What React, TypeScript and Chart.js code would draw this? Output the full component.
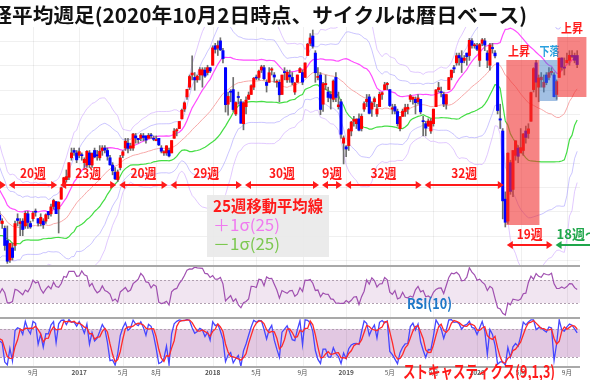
import React, { useEffect, useRef } from "react";
import { Chart, registerables } from "chart.js";
Chart.register(...registerables);

// Nikkei 225 weekly candles. First entry = week ending 2015-12-11.
// The first 25 weeks are indicator warm-up (off the left edge); chart week 0 = 2016-06-03, last = 2020-10-02.
const WARMUP = 25;

const opens = [
  19700,19100,18800,18900,18818,17400,17300,17100,17600,16900,15300,15800,16300,17000,17000,16900,17000,16000,15700,16600,17400,16300,16200,16600,16700,
  16850,16500,16300,15800,15000,15500,15600,16700,16500,16600,
  16400,16900,16500,16700,17000,16700,16500,16600,16600,17000,
  16900,17200,17400,17100,17500,18100,18300,18400,19200,19500,
  19400,19300,19300,19000,18900,19400,18900,19500,19300,19200,
  19500,19600,19500,19200,18900,18600,18300,18800,19300,19600,
  19800,19600,19600,20100,20000,20000,20100,20100,20000,20100,
  20000,19900,20000,19600,19400,19400,19500,19400,20000,20300,
  20400,20800,21200,21700,22100,22600,22500,22400,22600,22600,
  22800,22700,22900,23000,23800,23700,24000,23600,22900,21400,
  21900,22000,21000,21700,21500,20600,21300,21600,21800,22100,
  22500,22500,22800,22900,22300,22300,22800,22600,22300,22300,
  21800,22700,22400,22600,22500,21900,22300,22700,22700,22500,
  23400,23900,24200,23500,22500,22600,21400,22200,21900,21800,
  21600,22500,21300,21500,19800,19650,19700,20300,20700,20600,
  20800,20400,21200,21500,21700,21200,21500,21000,21300,21800,
  22000,22200,22000,21200,21300,21100,20400,20900,21100,21200,
  21600,21600,21600,21500,21600,20700,20600,20500,20300,20600,
  21300,22000,21900,21800,21400,22000,22500,22900,23100,23400,
  23300,23200,23500,23400,24000,23800,23800,23200,23900,24000,
  23500,23000,23700,23500,23100,20800,20300,17500,16600,19000,
  17900,19300,19600,19400,19500,20300,20200,20700,22000,23100,
  22100,22400,22100,22600,22500,22700,22600,21800,22500,23300,
  22900,23100,23200,23400,23400,23400,
];
const highs = [
  19700,19870,19000,19100,18951,17800,17500,17600,17900,16900,16200,16300,17100,17100,17300,17100,17100,16200,16900,17600,17600,16400,16700,16800,16900,
  17000,16700,16400,16400,15700,15700,16600,16900,16700,16700,
  17000,17000,16600,17000,17100,16700,16900,16700,16900,17000,
  17300,17500,17400,17400,18000,18400,18700,19000,19600,19600,
  19500,19600,19400,19200,19500,19500,19400,19600,19500,19700,
  19700,19700,19600,19300,19000,18800,18700,19300,19500,20000,
  20000,19800,20200,20200,20000,20200,20200,20100,20200,20200,
  20100,20100,20000,19700,19500,19700,19600,19900,20400,20400,
  20700,21200,21500,22000,22600,23382,22700,22600,22900,22900,
  22900,23000,22900,23800,23900,24000,24129,23700,22900,21900,
  22000,22500,21500,21900,21600,21500,21700,21900,22200,22500,
  22600,22800,23000,23000,22400,22900,22900,22700,22400,22400,
  22600,22900,22800,22800,22700,22300,22600,22900,22800,23100,
  23900,24300,24448,23600,22900,22700,22300,22600,22100,21900,
  22400,22700,21900,21600,20100,19700,20400,20700,20900,20800,
  21000,21000,21500,21800,21800,21500,21700,21400,21900,21900,
  22300,22300,22000,21400,21400,21200,20900,21200,21400,21400,
  21800,21700,21700,21800,21600,20900,20700,20800,20800,21200,
  22000,22300,22100,21900,21800,22500,22800,23000,23500,23500,
  23600,23400,23500,24100,24100,23900,23900,23900,24100,24100,
  23600,23900,23900,23600,23100,21400,20400,17800,19400,19100,
  19500,19900,19700,20400,20200,20500,20600,21900,22900,23200,
  22600,22700,22600,22700,22900,22900,22700,22400,23300,23300,
  23300,23500,23600,23600,23500,23600,
];
const lows = [
  19200,18980,18600,18850,17509,16900,16017,16800,16700,14865,15300,15700,16000,16500,16600,16700,16100,15500,15600,16500,16600,15975,16100,16400,16500,
  16500,16300,15400,14864,14900,15000,15400,16400,16000,16000,
  16300,16300,16300,16600,16800,16400,16400,16300,16500,16700,
  16800,17100,16900,16111,17500,18000,18200,18300,19100,19300,
  19000,19200,19100,18800,18800,18800,18800,19200,19100,19100,
  19300,19400,19100,18900,18500,18300,18224,18700,19200,19500,
  19400,19500,19500,19800,19800,19900,19900,19800,20000,20000,
  19900,19900,19700,19400,19300,19300,19239,19400,20000,20100,
  20400,20800,21100,21600,22000,22400,21972,22300,22400,22100,
  22500,22600,22700,23000,23500,23400,23600,23100,21078,20950,
  21500,21100,20937,21400,20617,20347,21000,21600,21800,22000,
  22400,22400,22700,22400,21900,22300,22600,22300,22100,21500,
  21800,22400,22300,22300,22200,21800,22300,22700,22200,22500,
  23400,23800,23700,22300,22400,20971,21100,22000,21500,21200,
  21500,21500,21200,20000,18948,19241,19500,20100,20500,20400,
  20300,20300,21100,21300,21000,20900,21300,20900,21300,21600,
  22000,22000,21300,21000,21000,20500,20300,20900,20900,21000,
  21500,21400,21000,21400,21000,20100,20100,20500,20200,20500,
  21300,21900,21700,21300,21200,22000,22400,22700,23000,23000,
  22700,23100,23000,23200,23700,23700,23600,22951,23800,23600,
  22900,22800,23500,23300,21000,20400,16690,16358,16500,17700,
  17600,19100,19000,19400,19300,19800,20000,20700,21900,21700,
  21500,22100,21900,22200,22400,22600,21700,21600,22500,22800,
  22600,23100,23000,23300,23100,22900,
];
const closes = [
  19230,18986,18769,19034,17698,17147,16958,17518,16820,14953,15967,16188,17015,16938,16725,17002,16164,15821,16848,17572,16666,16106,16412,16736,16835,
  16642,16601,15599,14952,15682,15106,16497,16627,16569,16254,
  16919,16545,16360,16925,16965,16519,16754,16449,16860,16856,
  17184,17446,16905,17374,17968,18381,18426,18996,19401,19427,
  19114,19454,19287,19137,19467,18918,19378,19234,19283,19469,
  19604,19521,19262,18909,18664,18335,18620,19197,19445,19883,
  19590,19686,20177,20013,19943,20132,20033,19929,20118,20099,
  19959,19952,19729,19470,19452,19691,19274,19909,20296,20356,
  20690,21155,21457,22008,22539,22681,22397,22550,22819,22811,
  22553,22902,22765,23715,23653,23808,23632,23274,21383,21720,
  21892,21182,21469,21676,20617,21454,21568,21778,22162,22467,
  22472,22758,22930,22450,22171,22694,22851,22516,22304,21788,
  22597,22697,22712,22525,22298,22270,22601,22865,22307,23094,
  23869,24120,23783,22694,22532,21184,22243,22250,21680,21646,
  22351,21679,21374,20166,20015,19561,20359,20666,20773,20788,
  20333,20900,21425,21602,21025,21450,21627,21205,21807,21870,
  22200,22258,21344,21250,21117,20601,20884,21116,21258,21275,
  21746,21685,21466,21658,21087,20684,20418,20710,20704,21199,
  21988,22079,21878,21410,21798,22492,22800,22851,23391,23303,
  23112,23293,23354,24023,23816,23837,23656,23850,24041,23827,
  23205,23827,23687,23386,21142,20749,17431,16552,19389,17820,
  19498,19897,19262,19619,20179,20037,20388,21877,22863,22305,
  22478,22512,22306,22290,22696,22751,21710,22329,23289,22920,
  22882,23205,23406,23360,23204,23029,
];

// x-axis tick positions (chart week numbers) and labels
const tickWeeks = [13, 31, 48, 61, 83, 100, 118, 135, 152, 169, 186, 203, 221];
const tickLabels = ["9月", "2017", "5月", "8月", "2018", "5月", "9月", "2019", "5月", "9月", "2020", "5月", "9月"];
const priceGrid = [15000, 16000, 17000, 18000, 19000, 20000, 21000, 22000, 23000, 24000];

// cycle lows (chart week numbers) and cycle lengths
const cycleLows = [3, 23, 46, 66, 95, 125, 134, 165, 197];
const cycleLabels = ["20週", "23週", "20週", "29週", "30週", "9週", "32週", "32週"];
const lastCycle = [197, 216];
const lastCycleLabel = "19週";
const nextCycleLabel = "18週〜";

// highlighted zones since the March 2020 low
const zoneLabels = ["上昇", "下落", "上昇"];
const zoneFrom = [197.4, 210.3, 217.3];
const zoneTo = [210.3, 217.3, 228.6];
const zoneLow = [16440, 21532, 21697];
const zoneHigh = [23216, 23216, 24160];

const TITLE = "日経平均週足(2020年10月2日時点、サイクルは暦日ベース)";
const FONT = "'Noto Sans CJK JP', 'Noto Sans', sans-serif";

// view window
const X_MIN = 0.144;
const X_MAX = 226.1;

// ---- indicators derived from the candle arrays ----
const N = closes.length;
const wk = (i: number) => i - WARMUP;
const ma25: (number | null)[] = [];
const sd25: (number | null)[] = [];
for (let i = 0; i < N; i++) {
  if (i < 24) { ma25.push(null); sd25.push(null); continue; }
  let s = 0;
  for (let j = i - 24; j <= i; j++) s += closes[j];
  const m = s / 25;
  let v = 0;
  for (let j = i - 24; j <= i; j++) v += (closes[j] - m) * (closes[j] - m);
  ma25.push(m);
  sd25.push(Math.sqrt(v / 25));
}
// RSI(10)
const rsi10: (number | null)[] = [];
for (let i = 0; i < N; i++) {
  if (i < 10) { rsi10.push(null); continue; }
  let g = 0, l = 0;
  for (let j = i - 9; j <= i; j++) {
    const d = closes[j] - closes[j - 1];
    if (d > 0) g += d; else l -= d;
  }
  rsi10.push(g + l === 0 ? 50 : (100 * g) / (g + l));
}
// Stochastics(9,1,3)
const stK: (number | null)[] = [];
for (let i = 0; i < N; i++) {
  if (i < 8) { stK.push(null); continue; }
  let hh = -Infinity, ll = Infinity;
  for (let j = i - 8; j <= i; j++) { hh = Math.max(hh, highs[j]); ll = Math.min(ll, lows[j]); }
  stK.push(hh === ll ? 50 : ((closes[i] - ll) / (hh - ll)) * 100);
}
const stD: (number | null)[] = stK.map((_, i) =>
  i < 10 ? null : ((stK[i] as number) + (stK[i - 1] as number) + (stK[i - 2] as number)) / 3
);

const series = (arr: (number | null)[]) => arr.map((v, i) => ({ x: wk(i), y: v }));
const band = (k: number) => ma25.map((m, i) => ({ x: wk(i), y: m === null ? null : m + k * (sd25[i] as number) }));

function fitText(ctx: CanvasRenderingContext2D, text: string, x: number, cy: number, width: number, font: string, color: string, center = false) {
  ctx.save();
  ctx.font = font;
  ctx.fillStyle = color;
  ctx.textBaseline = "middle";
  ctx.textAlign = "left";
  const w = ctx.measureText(text).width || 1;
  const sx = width / w;
  ctx.translate(center ? x - width / 2 : x, cy);
  ctx.scale(sx, 1);
  ctx.fillText(text, 0, 0);
  ctx.restore();
}

function arrowHead(ctx: CanvasRenderingContext2D, tip: number, y: number, dir: number) {
  ctx.beginPath();
  ctx.moveTo(tip, y);
  ctx.lineTo(tip - dir * 6, y - 4);
  ctx.lineTo(tip - dir * 6, y + 4);
  ctx.closePath();
  ctx.fill();
}

function arrow(ctx: CanvasRenderingContext2D, x1: number, x2: number, y: number, color: string, lh = true, rh = true) {
  ctx.save();
  ctx.strokeStyle = color;
  ctx.fillStyle = color;
  ctx.lineWidth = 2;
  ctx.beginPath();
  ctx.moveTo(x1 + (lh ? 4 : 0), y);
  ctx.lineTo(x2 - (rh ? 4 : 0), y);
  ctx.stroke();
  if (lh) arrowHead(ctx, x1, y, -1);
  if (rh) arrowHead(ctx, x2, y, 1);
  ctx.restore();
}

function vGrid(chart: any) {
  const { ctx, chartArea: a, scales } = chart;
  ctx.save();
  ctx.strokeStyle = "rgba(0,0,0,0.06)";
  ctx.lineWidth = 1;
  tickWeeks.forEach((w) => {
    const px = Math.round(scales.x.getPixelForValue(w)) + 0.5;
    ctx.beginPath();
    ctx.moveTo(px, a.top);
    ctx.lineTo(px, a.bottom);
    ctx.stroke();
  });
  ctx.restore();
}

function hBorder(ctx: CanvasRenderingContext2D, y: number, x1: number, x2: number) {
  ctx.save();
  ctx.strokeStyle = "#a9a9a9";
  ctx.lineWidth = 2;
  ctx.beginPath();
  ctx.moveTo(x1, y);
  ctx.lineTo(x2, y);
  ctx.stroke();
  ctx.restore();
}

function bandFill(chart: any, lo: number, hi: number, fill: string) {
  const { ctx, chartArea: a, scales } = chart;
  const y1 = scales.y.getPixelForValue(hi);
  const y2 = scales.y.getPixelForValue(lo);
  ctx.save();
  ctx.fillStyle = fill;
  ctx.fillRect(a.left, y1, a.right - a.left, y2 - y1);
  ctx.strokeStyle = "#b0a0b0";
  ctx.setLineDash([2, 2]);
  ctx.lineWidth = 1;
  [y1, y2].forEach((yy) => {
    ctx.beginPath();
    ctx.moveTo(a.left, Math.round(yy) + 0.5);
    ctx.lineTo(a.right, Math.round(yy) + 0.5);
    ctx.stroke();
  });
  ctx.restore();
}

const mainDecor = {
  id: "mainDecor",
  beforeDatasetsDraw(chart: any) {
    const { ctx, chartArea: a, scales } = chart;
    ctx.save();
    ctx.strokeStyle = "rgba(0,0,0,0.06)";
    ctx.lineWidth = 1;
    priceGrid.forEach((p) => {
      const py = Math.round(scales.y.getPixelForValue(p)) + 0.5;
      ctx.beginPath();
      ctx.moveTo(a.left, py);
      ctx.lineTo(a.right, py);
      ctx.stroke();
    });
    ctx.restore();
    vGrid(chart);
  },
  afterDatasetsDraw(chart: any) {
    const { ctx, scales } = chart;
    const xs = scales.x, ys = scales.y;
    // zones
    zoneLabels.forEach((lab, k) => {
      const x1 = xs.getPixelForValue(zoneFrom[k]);
      const x2 = xs.getPixelForValue(zoneTo[k]);
      const y1 = ys.getPixelForValue(zoneHigh[k]);
      const y2 = ys.getPixelForValue(zoneLow[k]);
      const up = lab === "上昇";
      ctx.save();
      ctx.fillStyle = up ? "rgba(240,50,50,0.6)" : "rgba(70,130,200,0.5)";
      ctx.fillRect(x1, y1, x2 - x1, y2 - y1);
      ctx.restore();
      fitText(ctx, lab, (x1 + x2) / 2 - (k === 0 ? 4 : k === 1 ? -1 : 0), y1 - 9, k === 1 ? 20 : 22, `bold 12px ${FONT}`, up ? "#ff1a1a" : "#2aa0de", true);
    });
    // legend box
    ctx.save();
    ctx.fillStyle = "rgba(233,233,233,0.92)";
    ctx.fillRect(207, 195, 122, 62);
    ctx.restore();
    fitText(ctx, "25週移動平均線", 213, 206, 110, `bold 16px ${FONT}`, "#ff1a1a");
    fitText(ctx, "＋1σ(25)", 213, 225, 67, `16px ${FONT}`, "#f07af0");
    fitText(ctx, "－1σ(25)", 213, 244, 67, `16px ${FONT}`, "#7cc850");
    // cycle arrows
    const AY = 185, LY = 173;
    arrow(ctx, -20, xs.getPixelForValue(cycleLows[0]) - 1.5, AY, "#ff1a1a", false, true);
    for (let k = 0; k < cycleLows.length - 1; k++) {
      const x1 = xs.getPixelForValue(cycleLows[k]) + 1.5;
      const x2 = xs.getPixelForValue(cycleLows[k + 1]) - 1.5;
      arrow(ctx, x1, x2, AY, "#ff1a1a");
      const lab = cycleLabels[k];
      fitText(ctx, lab, (x1 + x2) / 2, LY, lab.length === 3 ? 26 : 20, `bold 13px ${FONT}`, "#ff1a1a", true);
    }
    const BY = 245, BLY = 234;
    const c1 = xs.getPixelForValue(lastCycle[0]) + 1.5;
    const c2 = xs.getPixelForValue(lastCycle[1]) - 1.5;
    arrow(ctx, c1, c2, BY, "#ff1a1a");
    fitText(ctx, lastCycleLabel, (c1 + c2) / 2, BLY, 26, `bold 13px ${FONT}`, "#ff1a1a", true);
    const g1 = xs.getPixelForValue(lastCycle[1]) + 1.5;
    arrow(ctx, g1, 640, BY, "#1fa64a", true, false);
    ctx.save();
    ctx.font = `bold 13px ${FONT}`;
    ctx.fillStyle = "#1fa64a";
    ctx.textBaseline = "middle";
    ctx.fillText(nextCycleLabel, g1 + 1, BLY);
    ctx.restore();
  },
  afterDraw(chart: any) {
    const { ctx } = chart;
    ctx.save();
    ctx.font = `bold 20px ${FONT}`;
    const W = ctx.measureText(TITLE).width;
    const w0 = ctx.measureText("日経").width;
    const sx = (527 - 12) / (W - w0);
    ctx.fillStyle = "#111";
    ctx.textBaseline = "middle";
    ctx.translate(12 - w0 * sx, 15);
    ctx.scale(sx, 1);
    ctx.fillText(TITLE, 0, 0);
    ctx.restore();
  },
};

const rsiDecor = {
  id: "rsiDecor",
  beforeDatasetsDraw(chart: any) {
    bandFill(chart, 30, 70, "rgba(200,150,200,0.25)");
    vGrid(chart);
  },
  afterDraw(chart: any) {
    const { ctx, chartArea: a } = chart;
    hBorder(ctx, 1, a.left, a.right);
    fitText(ctx, "RSI(10)", 407, 38, 45, `bold 15px ${FONT}`, "#1e78c8");
  },
};

const stoDecor = {
  id: "stoDecor",
  beforeDatasetsDraw(chart: any) {
    bandFill(chart, 20, 80, "rgba(180,110,180,0.38)");
    vGrid(chart);
  },
  afterDraw(chart: any) {
    const { ctx, chartArea: a, scales } = chart;
    hBorder(ctx, 1, a.left, a.right);
    hBorder(ctx, a.bottom, a.left, a.right);
    ctx.save();
    ctx.fillStyle = "#555";
    ctx.textAlign = "center";
    ctx.textBaseline = "middle";
    tickWeeks.forEach((w, k) => {
      const lab = tickLabels[k];
      const isYear = /^\d+$/.test(lab);
      ctx.font = `${isYear ? "bold " : ""}6.5px ${FONT}`;
      ctx.fillText(lab, scales.x.getPixelForValue(w), a.bottom + 6);
    });
    ctx.restore();
    fitText(ctx, "ストキャスティクス(9,1,3)", 403, 55, 152, `bold 17px ${FONT}`, "#ff1a1a");
  },
};

const baseOpts = (yMin: number, yMax: number, padBottom: number, padTop: number) => ({
  responsive: false,
  animation: false as const,
  devicePixelRatio: 1,
  events: [] as any[],
  layout: { padding: { top: padTop, right: 10, left: 0, bottom: padBottom } },
  scales: {
    x: { type: "linear" as const, min: X_MIN, max: X_MAX, display: false, offset: false },
    y: { type: "linear" as const, min: yMin, max: yMax, display: false },
  },
  plugins: { legend: { display: false }, tooltip: { enabled: false } },
});

const lineDs = (data: any[], color: string, width: number, order: number) => ({
  type: "line" as const,
  data,
  borderColor: color,
  borderWidth: width,
  pointRadius: 0,
  fill: false,
  tension: 0,
  order,
});

export default function App() {
  const mainRef = useRef<HTMLCanvasElement>(null);
  const rsiRef = useRef<HTMLCanvasElement>(null);
  const stoRef = useRef<HTMLCanvasElement>(null);

  useEffect(() => {
    const charts: Chart[] = [];
    const bodies = closes.map((c, i) => ({ x: wk(i), y: [opens[i], c] }));
    const bodyColors = closes.map((c, i) => (c >= opens[i] ? "#ff0000" : "#0000ff"));
    const wicks = closes.map((_, i) => ({ x: wk(i), y: [lows[i], highs[i]] }));

    charts.push(
      new Chart(mainRef.current as HTMLCanvasElement, {
        type: "bar",
        data: {
          datasets: [
            { type: "bar", data: bodies as any, backgroundColor: bodyColors, barThickness: 2.4, minBarLength: 1, grouped: false, order: 0 } as any,
            { type: "bar", data: wicks as any, backgroundColor: "#6e6e6e", barThickness: 1, grouped: false, order: 1 } as any,
            lineDs(band(3), "rgba(205,165,255,0.6)", 1, 3),
            lineDs(band(-3), "rgba(205,165,255,0.6)", 1, 3),
            lineDs(band(2), "rgba(160,150,255,0.55)", 1, 3),
            lineDs(band(-2), "rgba(160,150,255,0.55)", 1, 3),
            lineDs(series(ma25), "#f7a8a8", 1, 2),
            lineDs(band(1), "#ff4dff", 1.2, 2),
            lineDs(band(-1), "#44dd44", 1.2, 2),
          ],
        },
        options: baseOpts(14797, 24571, 0, 27) as any,
        plugins: [mainDecor],
      })
    );

    charts.push(
      new Chart(rsiRef.current as HTMLCanvasElement, {
        type: "line",
        data: { datasets: [lineDs(series(rsi10), "#a050b0", 1.2, 0)] },
        options: baseOpts(5.65, 96.1, 0, 0) as any,
        plugins: [rsiDecor],
      })
    );

    charts.push(
      new Chart(stoRef.current as HTMLCanvasElement, {
        type: "line",
        data: {
          datasets: [
            lineDs(series(stD), "#ff2a2a", 1.3, 0),
            lineDs(series(stK), "#4646ff", 1.3, 1),
          ],
        },
        options: baseOpts(-1.5, 105.6, 13, 0) as any,
        plugins: [stoDecor],
      })
    );

    return () => charts.forEach((c) => c.destroy());
  }, []);

  return (
    <div style={{ position: "fixed", left: 0, top: 0, width: 590, height: 380, background: "#fff", overflow: "hidden" }}>
      <canvas ref={mainRef} width={590} height={265} style={{ position: "absolute", left: 0, top: 0 }} />
      <canvas ref={rsiRef} width={590} height={52} style={{ position: "absolute", left: 0, top: 265 }} />
      <canvas ref={stoRef} width={590} height={63} style={{ position: "absolute", left: 0, top: 317 }} />
    </div>
  );
}
